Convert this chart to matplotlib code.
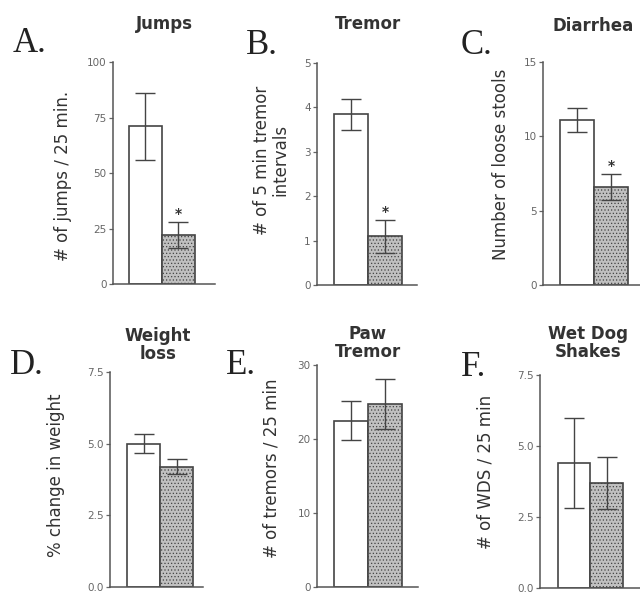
import matplotlib
matplotlib.use('Agg')
import matplotlib.pyplot as plt

plt.rcParams['font.family'] = ['DejaVu Sans']
plt.rcParams['hatch.color'] = '#9c9c9c'
plt.rcParams['hatch.linewidth'] = 0.5

# data
letters = ['A.', 'B.', 'C.', 'D.', 'E.', 'F.']
titles = ['Jumps', 'Tremor', 'Diarrhea', 'Weight\nloss', 'Paw\nTremor', 'Wet Dog\nShakes']
ylabels = ['# of jumps / 25 min.', '# of 5 min tremor\nintervals', 'Number of loose stools',
           '% change in weight', '# of tremors / 25 min', '# of WDS / 25 min']
ymax = [100, 5, 15, 7.5, 30, 7.5]
yticks = [[0, 25, 50, 75, 100], [0, 1, 2, 3, 4, 5], [0, 5, 10, 15],
          [0.0, 2.5, 5.0, 7.5], [0, 10, 20, 30], [0.0, 2.5, 5.0, 7.5]]
tick_fmt = ['{:.0f}', '{:.0f}', '{:.0f}', '{:.1f}', '{:.0f}', '{:.1f}']
white_mean = [71, 3.85, 11.1, 5.0, 22.5, 4.4]
white_err = [15, 0.35, 0.8, 0.33, 2.6, 1.6]
grey_mean = [22, 1.1, 6.6, 4.2, 24.7, 3.7]
grey_err = [6, 0.37, 0.85, 0.27, 3.4, 0.92]
significant = [True, True, True, False, False, False]

W, H = 640, 595

# layout in pixels: axes box (left, top, right, bottom), xlim, letter pos, title pos, ylabel pos
axes_px = [(113, 62, 215, 284), (317, 63, 417, 285), (543, 62, 640, 285),
           (110, 372, 203, 587), (317, 365, 418, 587), (540, 375, 640, 588)]
xlims = [(-0.985, 2.11), (-1.0, 1.94), (-1.0, 1.85), (-1.015, 1.80), (-1.0, 1.97), (-1.05, 2.03)]
letter_px = [(13, 44), (246, 45), (461, 45), (10, 366), (226, 366), (461, 367)]
title_px = [(164, 24, 'center'), (368, 24, 'center'), (553, 26, 'left'),
            (158, 345, 'center'), (368, 343, 'center'), (588, 343, 'center')]
ylabel_px = [(63, 176), (271, 160), (501, 164), (56, 475), (272, 468), (486, 472)]

EDGE = '#444444'
TXT = '#333333'

fig = plt.figure(figsize=(W / 100, H / 100), dpi=100)
fig.patch.set_facecolor('white')


def fx(x):
    return x / W


def fy(y):
    return 1 - y / H


for i in range(6):
    l, t, r, b = axes_px[i]
    ax = fig.add_axes([fx(l), fy(b), (r - l) / W, (b - t) / H])
    ax.bar(0, white_mean[i], width=1.0, color='white', edgecolor=EDGE, linewidth=1.2)
    ax.bar(1, grey_mean[i], width=1.0, color='#c0c0c0', edgecolor=EDGE, linewidth=1.2,
           hatch='.....')
    ax.errorbar([0, 1], [white_mean[i], grey_mean[i]], yerr=[white_err[i], grey_err[i]],
                fmt='none', ecolor=EDGE, elinewidth=1.0, capsize=7, capthick=1.0)
    if significant[i]:
        ax.text(1, grey_mean[i] + grey_err[i] + 0.005 * ymax[i], '*', ha='center',
                va='bottom', fontsize=10, fontweight='bold', color=TXT)

    ax.set_xlim(*xlims[i])
    ax.set_ylim(0, ymax[i])
    ax.set_yticks(yticks[i])
    ax.set_yticklabels([tick_fmt[i].format(v) for v in yticks[i]], fontsize=7.5, color='#666666')
    ax.set_xticks([])
    for s in ['top', 'right']:
        ax.spines[s].set_visible(False)
    for s in ['left', 'bottom']:
        ax.spines[s].set_color('#555555')
        ax.spines[s].set_linewidth(1.1)
    ax.tick_params(axis='y', direction='out', length=3, width=0.9, color='#666666', pad=1.5)
    ax.patch.set_alpha(0)

    ax.set_ylabel(ylabels[i], fontsize=12, color=TXT, linespacing=1.0)
    lx, ly = ylabel_px[i]
    ax.yaxis.set_label_coords(fx(lx), fy(ly), transform=fig.transFigure)
    ax.yaxis.label.set_va('center')

    tx, ty, ha = title_px[i]
    fig.text(fx(tx), fy(ty), titles[i], ha=ha, va='center', fontsize=12, fontweight='bold',
             color=TXT, linespacing=1.0)
    px, py = letter_px[i]
    fig.text(fx(px), fy(py), letters[i], ha='left', va='center', fontsize=25,
             family='Liberation Serif', color='#222222')

fig.savefig('out.png', dpi=100)
